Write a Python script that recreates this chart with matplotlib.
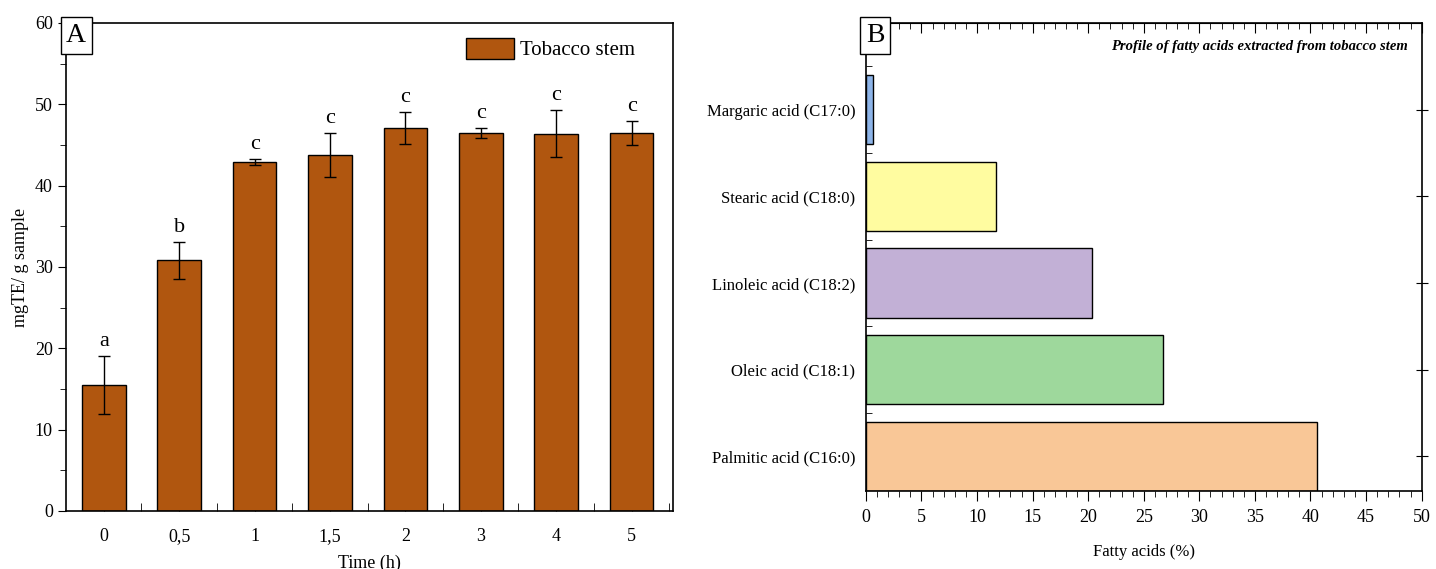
import numpy as np
import matplotlib
matplotlib.use("Agg")
import matplotlib.pyplot as plt
from matplotlib.ticker import MultipleLocator

plt.rcParams['font.family'] = ['Liberation Serif', 'DejaVu Serif']

# panel A data
times = ['0', '0,5', '1', '1,5', '2', '3', '4', '5']
te_mean = [15.5, 30.8, 42.9, 43.8, 47.1, 46.5, 46.4, 46.5]
te_err = [3.6, 2.3, 0.4, 2.7, 2.0, 0.6, 2.9, 1.5]
sig_letters = ['a', 'b', 'c', 'c', 'c', 'c', 'c', 'c']

# panel B data
acids = ['Palmitic acid (C16:0)', 'Oleic acid (C18:1)', 'Linoleic acid (C18:2)',
         'Stearic acid (C18:0)', 'Margaric acid (C17:0)']
acid_pct = [40.6, 26.7, 20.3, 11.7, 0.6]
acid_colors = ['#f9c797', '#9ed89c', '#c2b0d6', '#fffca0', '#8db4e8']

fig = plt.figure(figsize=(14.36, 5.69), dpi=100)

# ---- A ----
ax1 = fig.add_axes([0.046, 0.102, 0.4227, 0.8576])
x = np.arange(len(times))
ax1.bar(x, te_mean, width=0.58, color='#b0560f', edgecolor='black', linewidth=1.0,
        label='Tobacco stem', zorder=2)
ax1.errorbar(x, te_mean, yerr=te_err, fmt='none', ecolor='black', elinewidth=1.0,
             capsize=4, capthick=1.0, zorder=3)
for xi, m, e, s in zip(x, te_mean, te_err, sig_letters):
    ax1.text(xi, m + e + 0.6, s, ha='center', va='bottom', fontsize=16)
ax1.set_xlim(-0.5, 7.55)
ax1.set_ylim(0, 60)
ax1.set_xticks(x)
ax1.set_xticklabels(times)
ax1.set_xticks(x + 0.5, minor=True)
ax1.yaxis.set_major_locator(MultipleLocator(10))
ax1.yaxis.set_minor_locator(MultipleLocator(5))
ax1.tick_params(axis='x', which='both', direction='in', length=6, labelsize=13, pad=12)
ax1.tick_params(axis='y', which='major', direction='out', length=6, labelsize=13)
ax1.tick_params(axis='y', which='minor', direction='out', length=4)
ax1.set_xlabel('Time (h)', fontsize=13, labelpad=7)
ax1.set_ylabel('mgTE/ g sample', fontsize=13)
ax1.legend(loc='upper right', bbox_to_anchor=(0.962, 1.0), fontsize=15, frameon=False,
           handlelength=2.3, handleheight=1.2, handletextpad=0.3, borderaxespad=0.3)
ax1.text(0.0, 1.0, 'A', transform=ax1.transAxes, ha='left', va='top', fontsize=20,
         bbox=dict(boxstyle='square,pad=0.2', fc='white', ec='black', lw=1.0))
for sp in ax1.spines.values():
    sp.set_linewidth(1.2)

# ---- B ----
ax2 = fig.add_axes([0.603, 0.137, 0.387, 0.8226])
y = np.arange(len(acids))
ax2.barh(y, acid_pct, height=0.8, color=acid_colors, edgecolor='black', linewidth=1.0)
ax2.set_xlim(0, 50)
ax2.set_ylim(-0.4, 5.0)
ax2.set_yticks(y)
ax2.set_yticklabels(acids)
ax2.set_yticks(y + 0.5, minor=True)
ax2.xaxis.set_major_locator(MultipleLocator(5))
ax2.xaxis.set_minor_locator(MultipleLocator(1))
ax2.tick_params(axis='x', which='major', direction='out', length=7, labelsize=13, pad=6)
ax2.tick_params(axis='x', which='minor', direction='out', length=4)
ax2.tick_params(axis='y', which='major', left=False, right=True, direction='inout',
                length=8, labelsize=12)
ax2.tick_params(axis='y', which='minor', left=True, direction='in', length=4)
top = ax2.secondary_xaxis('top')
top.xaxis.set_major_locator(MultipleLocator(5))
top.xaxis.set_minor_locator(MultipleLocator(1))
top.tick_params(which='major', direction='in', length=7, labeltop=False)
top.tick_params(which='minor', direction='in', length=4)
ax2.set_xlabel('Fatty acids (%)', fontsize=12, labelpad=13)
ax2.text(0.0, 1.0, 'B', transform=ax2.transAxes, ha='left', va='top', fontsize=20,
         bbox=dict(boxstyle='square,pad=0.2', fc='white', ec='black', lw=1.0))
ax2.text(0.975, 0.95, 'Profile of fatty acids extracted from tobacco stem',
         transform=ax2.transAxes, ha='right', va='center', fontsize=10.5,
         fontweight='bold', fontstyle='italic')
for sp in ax2.spines.values():
    sp.set_linewidth(1.2)

fig.savefig('out.png', dpi=100)
